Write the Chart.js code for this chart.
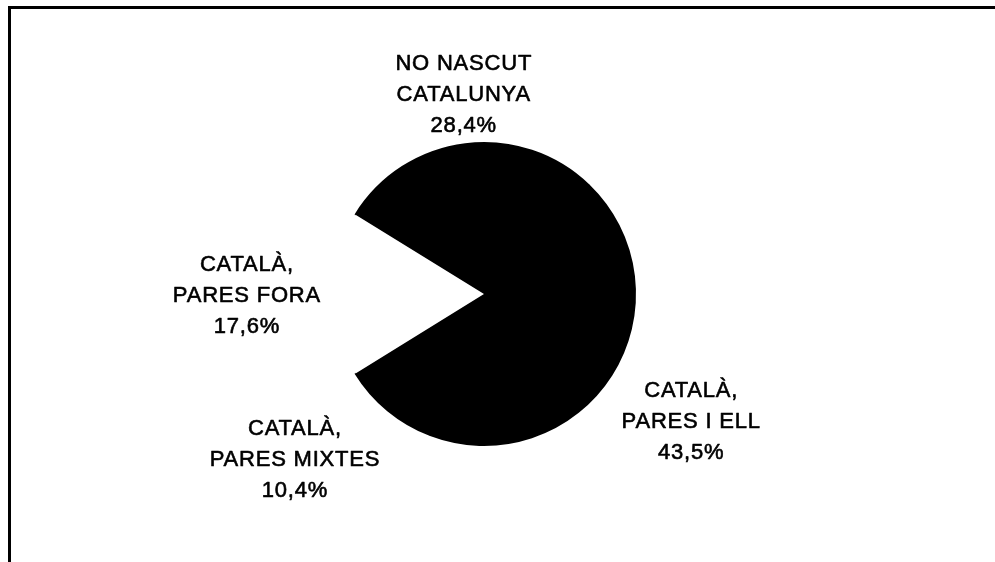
<!DOCTYPE html>
<html>
<head>
<meta charset="utf-8">
<script src="https://cdn.jsdelivr.net/npm/chart.js@4.4.1/dist/chart.umd.min.js"></script>
<style>
  html, body { margin: 0; padding: 0; background: #fff; overflow: hidden; }
  #frame {
    position: absolute; left: 8px; top: 6px; width: 1100px; height: 700px;
    border-left: 3px solid #000; border-top: 3px solid #000;
  }
  #chart { position: absolute; left: 0; top: 0; }
</style>
</head>
<body>
<div id="frame"></div>
<canvas id="chart" width="995" height="562"></canvas>
<script>
// Slice names (one line per entry) and shares in percent
const sliceNames = [
    ['NO NASCUT', 'CATALUNYA'],
    ['CATALÀ,', 'PARES I ELL'],
    ['CATALÀ,', 'PARES MIXTES'],
    ['CATALÀ,', 'PARES FORA']
];
const sliceValues = [28.4, 43.5, 10.4, 17.6];
const sliceColors = ['#000', '#000', '#000', '#fff'];

// Catalan style percentage: 28,4%
function formatPct(v) {
    return v.toFixed(1).replace('.', ',') + '%';
}

// Draw the three-line labels outside each slice, the box corner sitting on the mid-angle ray
const outsideLabels = {
    id: 'outsideLabels',
    afterDatasetsDraw(chart, args, opts) {
        const ctx = chart.ctx;
        const meta = chart.getDatasetMeta(0);
        const lineH = opts.lineHeight;
        const capH = opts.fontSize * 0.716;
        ctx.save();
        ctx.font = `${opts.fontSize}px "Liberation Sans", Arial, sans-serif`;
        ctx.letterSpacing = opts.letterSpacing;
        ctx.fillStyle = opts.color;
        ctx.strokeStyle = opts.color;
        ctx.lineWidth = opts.weight;
        ctx.lineJoin = 'round';
        ctx.textAlign = 'center';
        ctx.textBaseline = 'alphabetic';

        meta.data.forEach((arc, i) => {
            const p = arc.getProps(['x', 'y', 'startAngle', 'endAngle', 'outerRadius'], true);
            const mid = (p.startAngle + p.endAngle) / 2;
            const dx = Math.cos(mid), dy = Math.sin(mid);
            const r = p.outerRadius + opts.gap;
            const ax = p.x + dx * r, ay = p.y + dy * r;

            const lines = sliceNames[i].concat([formatPct(sliceValues[i])]);
            const w = Math.max(...lines.map(l => ctx.measureText(l).width));
            const h = (lines.length - 1) * lineH + capH;

            let cx, top;
            if (Math.abs(dx) < 0.3) cx = ax;
            else cx = dx > 0 ? ax + w / 2 : ax - w / 2;
            if (Math.abs(dy) < 0.3) top = ay - h / 2;
            else top = dy > 0 ? ay : ay - h;

            lines.forEach((l, k) => {
                const y = top + capH + k * lineH;
                ctx.fillText(l, cx, y);
                ctx.strokeText(l, cx, y);
            });
        });
        ctx.restore();
    }
};

new Chart(document.getElementById('chart'), {
    type: 'pie',
    data: {
        labels: sliceNames,
        datasets: [{
            data: sliceValues,
            backgroundColor: sliceColors,
            borderColor: sliceColors,
            borderWidth: [2, 2, 2, 0],
            radius: 151
        }]
    },
    options: {
        responsive: false,
        animation: false,
        rotation: -58.3,
        layout: {
            padding: { left: 180, right: 207, top: 142, bottom: 116 }
        },
        plugins: {
            legend: { display: false },
            tooltip: { enabled: false },
            outsideLabels: {
                fontSize: 22,
                letterSpacing: '0.8px',
                lineHeight: 31,
                gap: 12,
                weight: 0.6,
                color: '#000'
            }
        }
    },
    plugins: [outsideLabels]
});
</script>
</body>
</html>
